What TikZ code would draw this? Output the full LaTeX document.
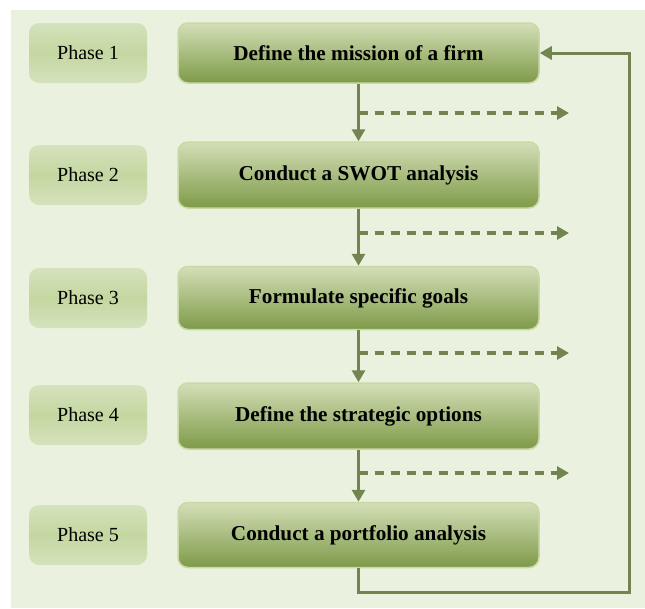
\documentclass[tikz,border=0pt]{standalone}
\usepackage{fontspec}
\setmainfont{Liberation Serif}
\usetikzlibrary{arrows.meta}
\definecolor{bgc}{HTML}{EAF1DE}
\definecolor{arr}{HTML}{728550}
\definecolor{mtop}{HTML}{D3DFB7}
\definecolor{mbot}{HTML}{7E9A48}
\definecolor{medge}{HTML}{C9D9A6}
\definecolor{ptop}{HTML}{D5E2BD}
\definecolor{pmid}{HTML}{C4D7A0}
\tikzset{
  mainbox/.style={rectangle, rounded corners=10pt, minimum width=361pt, minimum height=63pt,
    top color=mtop, bottom color=mbot, draw=medge, line width=1.5pt,
    font=\fontsize{21.2}{24}\selectfont\bfseries, inner sep=0pt},
  phasebox/.style={rectangle, rounded corners=10pt, minimum width=118pt, minimum height=60pt,
    top color=ptop, bottom color=ptop, middle color=pmid, draw=none,
    font=\fontsize{20}{23}\selectfont, inner sep=0pt},
  flow/.style={draw=arr, line width=3pt, -{Triangle[width=13pt,length=12pt]}},
  dashflow/.style={draw=arr, line width=3.2pt, dash pattern=on 9pt off 7pt, -{Triangle[width=13pt,length=12pt]}},
  loopline/.style={draw=arr, line width=3pt, -{Triangle[width=13pt,length=12pt]}},
}
\begin{document}
\begin{tikzpicture}[x=1pt,y=-1pt]
\useasboundingbox (0,0) rectangle (645,608);
\fill[bgc] (11,10) rectangle (645,608);

\node[phasebox] (p1) at (88,53) {Phase 1};
\node[phasebox] (p2) at (88,175) {Phase 2};
\node[phasebox] (p3) at (88,298) {Phase 3};
\node[phasebox] (p4) at (88,415) {Phase 4};
\node[phasebox] (p5) at (88,535) {Phase 5};

\node[mainbox, minimum height=60pt] (m1) at (358.5,53) {Define the mission of a firm};
\node[mainbox, minimum height=66pt] (m2) at (358.5,175) {Conduct a SWOT analysis};
\node[mainbox] (m3) at (358.5,298) {Formulate specific goals};
\node[mainbox, minimum height=66pt] (m4) at (358.5,416) {Define the strategic options};
\node[mainbox, minimum height=65pt] (m5) at (358.5,535) {Conduct a portfolio analysis};

\coordinate (s1) at (358.5,113); \coordinate (e1) at (569,113);
\coordinate (s2) at (358.5,233); \coordinate (e2) at (569,233);
\coordinate (s3) at (358.5,353); \coordinate (e3) at (569,353);
\coordinate (s4) at (358.5,473); \coordinate (e4) at (569,473);
\coordinate (c) at (629,592);

\draw[dashflow] (s1) -- (e1);
\draw[dashflow] (s2) -- (e2);
\draw[dashflow] (s3) -- (e3);
\draw[dashflow] (s4) -- (e4);

\draw[flow] (m1.south) -- (m2.north);
\draw[flow] (m2.south) -- (m3.north);
\draw[flow] (m3.south) -- (m4.north);
\draw[flow] (m4.south) -- (m5.north);

\draw[loopline] (m5.south) |- (c) |- (m1.east);
\end{tikzpicture}
\end{document}
